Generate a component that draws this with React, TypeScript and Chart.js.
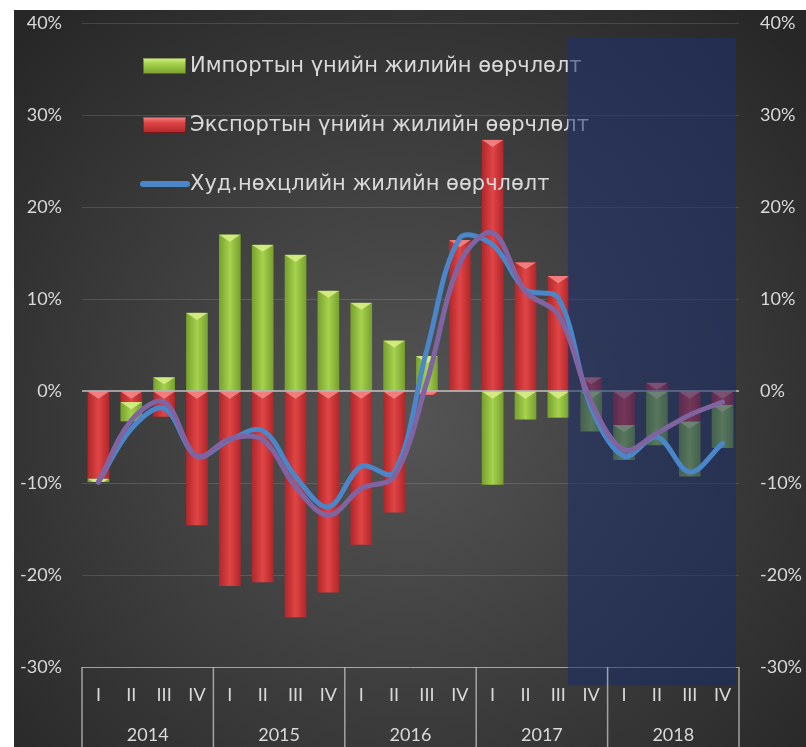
import React, { useEffect, useRef } from 'react';
import { Chart, registerables } from 'chart.js';

Chart.register(...registerables);

// ---- data ----
const years = ['2014', '2015', '2016', '2017', '2018'];
const quarters = ['I', 'II', 'III', 'IV'];
const legendLabels = [
  'Импортын үнийн жилийн өөрчлөлт',
  'Экспортын үнийн жилийн өөрчлөлт',
  'Худ.нөхцлийн жилийн өөрчлөлт',
];
// stacked bar segments (%): exports stacked first, imports beyond
const importChange = [-0.4, -2.1, 1.5, 8.5, 17.0, 15.9, 14.8, 10.9, 9.6, 5.5, 3.8, 0, -10.2, -3.1, -2.9, -4.4, -3.8, -5.9, -6.0, -4.7];
const exportChange = [-9.5, -1.2, -2.8, -14.6, -21.2, -20.8, -24.6, -21.9, -16.7, -13.2, -0.4, 16.4, 27.3, 14.0, 12.5, 1.5, -3.7, 0.9, -3.3, -1.5];
const totChange = [-9.9, -4.1, -1.9, -7.1, -5.3, -4.3, -9.3, -12.6, -8.2, -8.9, 4.5, 16.6, 15.9, 11.0, 10.1, -1.8, -7.1, -5.0, -8.8, -5.7];
const totSecond = [-9.9, -3.2, -1.2, -7.1, -5.2, -5.3, -10.4, -13.5, -10.6, -9.3, 1.0, 13.9, 17.2, 10.8, 8.3, -1.2, -6.4, -4.6, -2.6, -1.2];
const yTicks = [-30, -20, -10, 0, 10, 20, 30, 40];
// shaded forecast band (category index / % units)
const shadeFrom = 14.29;
const shadeTo = 19.41;
const shadeTop = 38.4;
const shadeBottom = -32;

const C = {
  greenEdge: '#76a02c',
  greenMid: '#a6d24e',
  greenTop: '#daf08a',
  redEdge: '#b0262a',
  redMid: '#e04545',
  redTop: '#f48a8a',
  blue: '#4a86c8',
  purple: '#8064a2',
  text: '#d9d9d9',
};

const TICK_FONT = { family: 'Lato, "Open Sans", sans-serif', size: 18 };
const LEGEND_FONT = '21px "DejaVu Sans", "Open Sans", sans-serif';
const BAR_PCT = 0.66;

export default function App() {
  const ref = useRef<HTMLCanvasElement>(null);

  useEffect(() => {
    const canvas = ref.current;
    if (!canvas) return;
    const labels = years.flatMap(() => quarters);
    const n = labels.length;

    const barFill = (edge: string, mid: string) => (c: any) => {
      const chart = c.chart;
      const xs = chart.scales && chart.scales.x;
      if (!xs || c.dataIndex === undefined || !xs.width) return mid;
      const cx = xs.getPixelForValue(c.dataIndex);
      const w = (xs.width / n) * BAR_PCT;
      if (!isFinite(cx)) return mid;
      const g = chart.ctx.createLinearGradient(cx - w / 2, 0, cx + w / 2, 0);
      g.addColorStop(0, edge);
      g.addColorStop(0.5, mid);
      g.addColorStop(1, edge);
      return g;
    };

    const bgPlugin = {
      id: 'bg',
      beforeDraw(chart: any) {
        const { ctx, width, height } = chart;
        const g = ctx.createRadialGradient(390, 410, 10, 390, 410, 540);
        g.addColorStop(0, '#545454');
        g.addColorStop(1, '#272727');
        ctx.save();
        ctx.fillStyle = g;
        ctx.fillRect(0, 0, width, height);
        ctx.restore();
      },
    };

    const drawLegend = (chart: any) => {
      const ctx = chart.ctx;
      const ca = chart.chartArea;
      const lx = ca.left + 61;
      const rows = [ca.top + 43, ca.top + 102, ca.top + 161];
      ctx.save();
      ctx.font = LEGEND_FONT;
      ctx.textBaseline = 'middle';
      ctx.textAlign = 'left';
      const boxes = [
        [C.greenEdge, C.greenMid, C.greenTop],
        [C.redEdge, C.redMid, C.redTop],
      ];
      boxes.forEach((b, i) => {
        const y = rows[i];
        const g = ctx.createLinearGradient(0, y - 8, 0, y + 8);
        g.addColorStop(0, b[2]);
        g.addColorStop(0.35, b[1]);
        g.addColorStop(1, b[0]);
        ctx.fillStyle = g;
        ctx.fillRect(lx, y - 8, 43, 16);
        ctx.strokeStyle = 'rgba(0,0,0,0.35)';
        ctx.lineWidth = 1;
        ctx.strokeRect(lx + 0.5, y - 7.5, 42, 15);
      });
      ctx.strokeStyle = C.blue;
      ctx.lineWidth = 6;
      ctx.lineCap = 'round';
      ctx.beginPath();
      ctx.moveTo(lx, rows[2]);
      ctx.lineTo(lx + 44, rows[2]);
      ctx.stroke();
      ctx.fillStyle = C.text;
      legendLabels.forEach((t, i) => ctx.fillText(t, lx + 47, rows[i] + 1));
      ctx.restore();
    };

    const decorPlugin = {
      id: 'decor',
      afterDatasetDraw(chart: any, args: any) {
        const meta = args.meta;
        if (meta.type !== 'bar') return;
        const ctx = chart.ctx;
        const topCol = meta.index === 0 ? C.greenTop : C.redTop;
        meta.data.forEach((el: any) => {
          const p = el.getProps(['x', 'y', 'base', 'width'], true);
          const t = Math.min(p.y, p.base);
          const b = Math.max(p.y, p.base);
          const h = b - t;
          if (!(h > 1)) return;
          ctx.save();
          ctx.beginPath();
          ctx.rect(p.x - p.width / 2, t, p.width, h);
          ctx.clip();
          ctx.beginPath();
          ctx.moveTo(p.x - p.width / 2, t);
          ctx.lineTo(p.x + p.width / 2, t);
          ctx.lineTo(p.x, t + p.width * 0.33);
          ctx.closePath();
          ctx.fillStyle = topCol;
          ctx.globalAlpha = 0.85;
          ctx.fill();
          ctx.restore();
        });
        if (meta.index !== 1) return;
        const ca = chart.chartArea;
        const xs = chart.scales.x;
        const ys = chart.scales.y;
        // zero line
        const y0 = ys.getPixelForValue(0);
        ctx.save();
        ctx.strokeStyle = 'rgba(215,215,215,0.85)';
        ctx.lineWidth = 1.5;
        ctx.beginPath();
        ctx.moveTo(ca.left, y0);
        ctx.lineTo(ca.right, y0);
        ctx.stroke();
        ctx.restore();
        drawLegend(chart);
        // shaded band
        const sx0 = xs.getPixelForValue(shadeFrom);
        const sx1 = xs.getPixelForValue(shadeTo);
        const sy0 = ys.getPixelForValue(shadeTop);
        const sy1 = ys.getPixelForValue(shadeBottom);
        ctx.save();
        const g = ctx.createLinearGradient(sx0, sy0, sx1, sy1);
        g.addColorStop(0, 'rgba(28,48,112,0.55)');
        g.addColorStop(1, 'rgba(24,42,100,0.55)');
        ctx.fillStyle = g;
        ctx.fillRect(sx0, sy0, sx1 - sx0, sy1 - sy0);
        ctx.restore();
      },
      afterDraw(chart: any) {
        const ctx = chart.ctx;
        const ca = chart.chartArea;
        const xs = chart.scales.x;
        const step = xs.getPixelForValue(1) - xs.getPixelForValue(0);
        ctx.save();
        ctx.strokeStyle = 'rgba(190,190,190,0.8)';
        ctx.lineWidth = 1.5;
        for (let k = 0; k <= years.length; k++) {
          const bx = xs.getPixelForValue(k * quarters.length) - step / 2;
          ctx.beginPath();
          ctx.moveTo(bx, ca.bottom);
          ctx.lineTo(bx, chart.height);
          ctx.stroke();
        }
        ctx.fillStyle = C.text;
        ctx.font = `${TICK_FONT.size}px ${TICK_FONT.family}`;
        ctx.textAlign = 'center';
        ctx.textBaseline = 'middle';
        years.forEach((yr, k) => {
          const a = xs.getPixelForValue(k * quarters.length);
          const b = xs.getPixelForValue(k * quarters.length + quarters.length - 1);
          ctx.fillText(yr, (a + b) / 2, chart.height - 12);
        });
        ctx.restore();
      },
    };

    const fitY = (w: number) => (s: any) => {
      s.width = w;
      s.paddingTop = 0;
      s.paddingBottom = 0;
    };

    const chart = new Chart(canvas, {
      type: 'bar',
      data: {
        labels,
        datasets: [
          {
            type: 'bar',
            label: legendLabels[0],
            data: importChange,
            order: 2,
            stack: 'bars',
            backgroundColor: barFill(C.greenEdge, C.greenMid) as any,
            borderWidth: 0,
            barPercentage: BAR_PCT,
            categoryPercentage: 1,
          },
          {
            type: 'bar',
            label: legendLabels[1],
            data: exportChange,
            order: 1,
            stack: 'bars',
            backgroundColor: barFill(C.redEdge, C.redMid) as any,
            borderWidth: 0,
            barPercentage: BAR_PCT,
            categoryPercentage: 1,
          },
          {
            type: 'line',
            label: legendLabels[2],
            data: totChange,
            order: 0,
            stack: 'line1',
            borderColor: C.blue,
            borderWidth: 5,
            pointRadius: 0,
            tension: 0.35,
            fill: false,
            borderCapStyle: 'round',
            borderJoinStyle: 'round',
          } as any,
          {
            type: 'line',
            label: 'trend',
            data: totSecond,
            order: -1,
            stack: 'line2',
            borderColor: C.purple,
            borderWidth: 5,
            pointRadius: 0,
            tension: 0.35,
            fill: false,
            borderCapStyle: 'round',
            borderJoinStyle: 'round',
          } as any,
        ],
      },
      options: {
        responsive: false,
        animation: false,
        events: [],
        layout: { padding: { top: 13, bottom: 0, left: 0, right: 0 } },
        plugins: {
          legend: { display: false },
          tooltip: { enabled: false },
        },
        scales: {
          x: {
            stacked: true,
            offset: true,
            grid: { display: false, drawTicks: false, tickLength: 0 },
            border: { display: false },
            ticks: {
              color: C.text,
              font: TICK_FONT,
              padding: 17,
              maxRotation: 0,
              autoSkip: false,
            },
            afterFit: (s: any) => {
              s.height = 80;
            },
          },
          y: {
            stacked: true,
            min: yTicks[0],
            max: yTicks[yTicks.length - 1],
            afterBuildTicks: (s: any) => {
              s.ticks = yTicks.map((v) => ({ value: v }));
            },
            grid: {
              drawTicks: false,
              lineWidth: 1,
              color: (c: any) =>
                c.tick && c.tick.value === 0
                  ? 'rgba(0,0,0,0)'
                  : c.tick && c.tick.value === yTicks[0]
                  ? 'rgba(190,190,190,0.8)'
                  : 'rgba(255,255,255,0.13)',
            },
            border: { display: false },
            ticks: {
              color: C.text,
              font: TICK_FONT,
              padding: 20,
              callback: (v: any) => `${v}%`,
            },
            afterFit: fitY(68),
          },
          y2: {
            position: 'right',
            min: yTicks[0],
            max: yTicks[yTicks.length - 1],
            afterBuildTicks: (s: any) => {
              s.ticks = yTicks.map((v) => ({ value: v }));
            },
            grid: { display: false, drawTicks: false },
            border: { display: false },
            ticks: {
              color: C.text,
              font: TICK_FONT,
              padding: 21,
              callback: (v: any) => `${v}%`,
            },
            afterFit: fitY(67),
          },
        },
      } as any,
      plugins: [bgPlugin, decorPlugin],
    });
    return () => chart.destroy();
  }, []);

  return (
    <div style={{ position: 'absolute', left: 14, top: 10, width: 792, height: 737 }}>
      <canvas ref={ref} width={792} height={737} style={{ display: 'block', width: 792, height: 737 }} />
    </div>
  );
}
